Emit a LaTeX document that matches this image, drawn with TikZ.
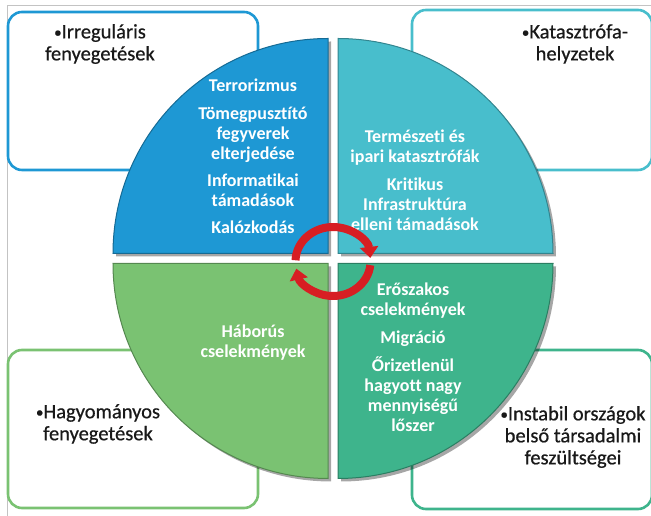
\documentclass[tikz,border=0pt]{standalone}
\usepackage{fontspec}
\setmainfont{Carlito}[Ligatures=NoCommon]
\newfontfamily\boxfont{Carlito}[Ligatures=NoCommon, FakeBold=0.6]
\usepackage{tikz}
\usetikzlibrary{arrows.meta}
\definecolor{qblue}{RGB}{30,152,212}
\definecolor{qteal}{RGB}{72,190,204}
\definecolor{qgreen}{RGB}{122,194,114}
\definecolor{qsea}{RGB}{62,180,140}
\definecolor{qred}{RGB}{215,30,35}
\definecolor{qframe}{RGB}{195,195,195}
\newcommand{\bul}{{\fontsize{15}{15}\selectfont\raisebox{1pt}{•}}}

\begin{document}
\begin{tikzpicture}[x=1pt, y=1pt,
  threat/.style={draw=#1, line width=2.6pt, rounded corners=14pt, fill=white},
  quarter/.style={fill=#1, draw=#1!70!black, line width=1pt},
  inner/.style={font=\fontsize{18}{20}\selectfont\bfseries, text=white, align=center, inner sep=0pt},
  outer/.style={font=\fontsize{20.5}{22}\boxfont, text=black!90, align=center, inner sep=0pt},
  ringarr/.style={draw=qred, line width=8pt, -{Triangle[length=11pt, width=18pt]}}
]
  \useasboundingbox (0,0) rectangle (651,516);
  \draw[qframe, line width=1pt] (7,0) -- (7,510) -- (651,510);

  % outer boxes
  \draw[threat=qblue]  (8,346)  rectangle (258,504);
  \draw[threat=qteal]  (412,346) rectangle (652,506);
  \draw[threat=qgreen] (8,8)    rectangle (258,166);
  \draw[threat=qsea]   (412,7)  rectangle (652,166);

  % quarter discs
  \foreach \a/\col/\dx/\dy in {90/qblue/-5/5, 0/qteal/5/5, 180/qgreen/-5/-5, 270/qsea/5/-5}{
    \fill[black, opacity=0.35, shift={(333+\dx+3,257.5+\dy-3)}]
      (0,0) -- (\a:215) arc[start angle=\a, end angle=\a+90, radius=215] -- cycle;
    \draw[quarter=\col, shift={(333+\dx,257.5+\dy)}]
      (0,0) -- (\a:215) arc[start angle=\a, end angle=\a+90, radius=215] -- cycle;
  }

  \node[outer] (irreg) at (100,472) {\bul Irreguláris\\fenyegetések};
  \node[outer] (katas) at (575,472) {\bul Katasztrófa-\\helyzetek};
  \node[outer] (hagy)  at (98,92)   {\bul Hagyományos\\fenyegetések};
  \node[outer] (instab) at (573,79) {\bul Instabil országok\\belső társadalmi\\feszültségei};

  \node[inner] (terror) at (253,359.5) {Terrorizmus\\[8pt] Tömegpusztító\\fegyverek\\elterjedése\\[7pt] Informatikai\\támadások\\[7pt] Kalózkodás};
  \node[inner] (termesz) at (415,336) {Természeti és\\ipari katasztrófák\\[8pt] Kritikus\\Infrastruktúra\\elleni támadások};
  \node[inner] (haboru) at (253,173.5) {Háborús\\cselekmények};
  \node[inner] (eroszak) at (413,159) {Erőszakos\\cselekmények\\[8pt] Migráció\\[8pt] Őrizetlenül\\hagyott nagy\\mennyiségű\\lőszer};

  % red cycle
  \coordinate (ring) at (333,254.5);
  \draw[ringarr] (ring) ++(178:37.5 and 34.5) arc[start angle=178, end angle=6, x radius=37.5, y radius=34.5];
  \draw[ringarr] (ring) ++(-6:37.5 and 34.5) arc[start angle=-6, end angle=-168, x radius=37.5, y radius=34.5];
\end{tikzpicture}
\end{document}
